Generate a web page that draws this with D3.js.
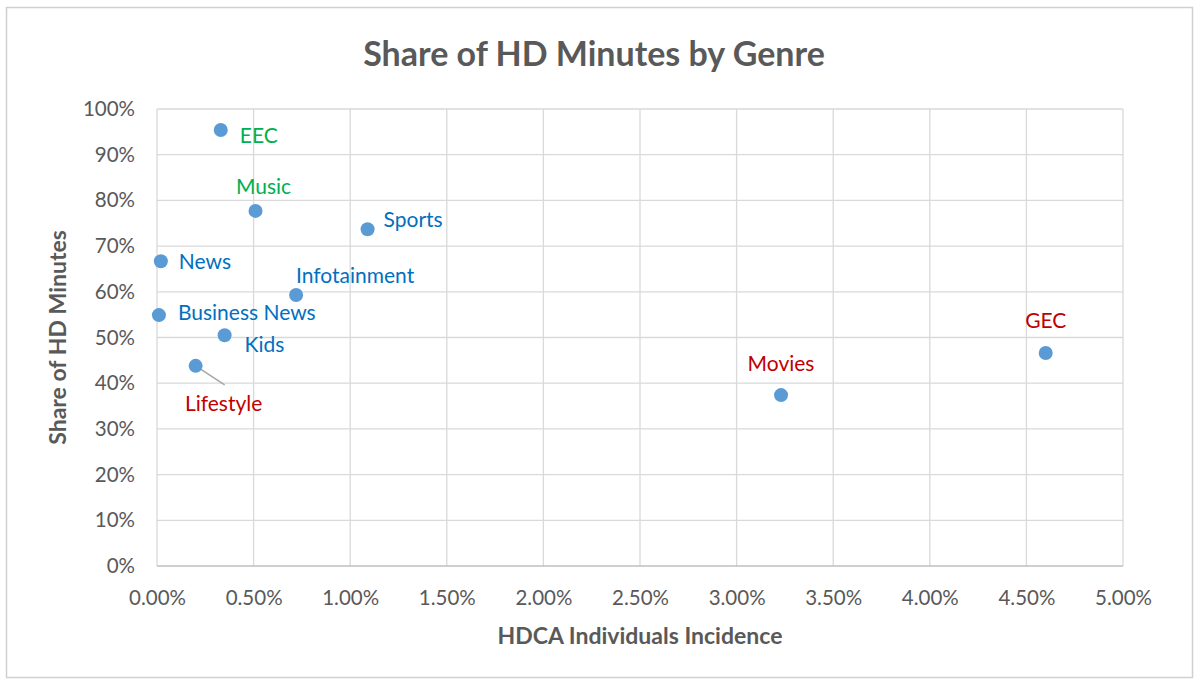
<!DOCTYPE html>
<html>
<head>
<meta charset="utf-8">
<script src="https://cdn.jsdelivr.net/npm/d3@7"></script>
<style>
  body { margin: 0; background: #fff; }
  text { font-family: Lato, "Open Sans", sans-serif; }
</style>
</head>
<body>
<div id="chart"></div>
<script>
// genre points, x = HDCA individuals incidence (%), y = share of HD minutes (%)
var genres = ["EEC", "Music", "Sports", "News", "Infotainment", "Business News", "Kids", "Lifestyle", "Movies", "GEC"];
var incidence = [0.33, 0.51, 1.09, 0.02, 0.72, 0.01, 0.35, 0.20, 3.23, 4.60];
var hdShare = [95.4, 77.7, 73.7, 66.7, 59.3, 54.9, 50.5, 43.8, 37.4, 46.6];
var labelGroup = ["green", "green", "blue", "blue", "blue", "blue", "blue", "red", "red", "red"];
var xTicks = [0, 0.5, 1, 1.5, 2, 2.5, 3, 3.5, 4, 4.5, 5];
var yTicks = [0, 10, 20, 30, 40, 50, 60, 70, 80, 90, 100];

var W = 1198, H = 679;
var margin = {top: 109, right: 75, bottom: 113, left: 157};
var colors = {green: "#00b050", blue: "#0070c0", red: "#c00000"};
// label offsets relative to the point (dx, dy, anchor)
var labelPos = [
  [19, 6, "start"], [8, -24, "middle"], [16, -10, "start"], [18, 0, "start"],
  [59, -19, "middle"], [19, -2, "start"], [20, 9, "start"], [28, 38, "middle"],
  [0, -31, "middle"], [0, -32, "middle"]
];

var svg = d3.select("#chart").append("svg").attr("width", W).attr("height", H);

svg.append("rect").attr("x", 6.5).attr("y", 7.5).attr("width", 1186).attr("height", 670)
  .attr("fill", "#fff").attr("stroke", "#d0d0d0").attr("stroke-width", 1.5);

var x = d3.scaleLinear().domain([0, 5]).range([margin.left, W - margin.right]);
var y = d3.scaleLinear().domain([0, 100]).range([H - margin.bottom, margin.top]);

// grid
svg.append("g").selectAll("line").data(xTicks).join("line")
  .attr("x1", d => x(d)).attr("x2", d => x(d))
  .attr("y1", y(0)).attr("y2", y(100))
  .attr("stroke", "#d9d9d9").attr("stroke-width", 1.3);
svg.append("g").selectAll("line").data(yTicks).join("line")
  .attr("x1", x(0)).attr("x2", x(5))
  .attr("y1", d => y(d)).attr("y2", d => y(d))
  .attr("stroke", d => d === 0 ? "#bfbfbf" : "#d9d9d9").attr("stroke-width", 1.3);

// axes (labels only)
var xAxis = svg.append("g").attr("transform", "translate(0," + y(0) + ")")
  .call(d3.axisBottom(x).tickValues(xTicks).tickSize(0).tickPadding(24)
    .tickFormat(d => d.toFixed(2) + "%"));
var yAxis = svg.append("g").attr("transform", "translate(" + x(0) + ",0)")
  .call(d3.axisLeft(y).tickValues(yTicks).tickSize(0).tickPadding(22)
    .tickFormat(d => d + "%"));
[xAxis, yAxis].forEach(function(a) {
  a.select(".domain").remove();
  a.selectAll("text").attr("fill", "#595959").style("font-size", "20.5px")
    .style("font-family", "Lato, sans-serif");
});

// title + axis titles
svg.append("text").attr("x", 594).attr("y", 66).attr("text-anchor", "middle")
  .attr("fill", "#595959").style("font-size", "34px").style("font-weight", "bold")
  .text("Share of HD Minutes by Genre");
svg.append("text").attr("x", (x(0) + x(5)) / 2).attr("y", 644).attr("text-anchor", "middle")
  .attr("fill", "#595959").style("font-size", "23px").style("font-weight", "bold")
  .text("HDCA Individuals Incidence");
svg.append("text").attr("transform", "translate(66," + (y(0) + y(100)) / 2 + ") rotate(-90)")
  .attr("text-anchor", "middle")
  .attr("fill", "#595959").style("font-size", "23px").style("font-weight", "bold")
  .text("Share of HD Minutes");

// leader line for Lifestyle
var li = genres.indexOf("Lifestyle");
svg.append("line")
  .attr("x1", x(incidence[li])).attr("y1", y(hdShare[li]))
  .attr("x2", x(incidence[li]) + 29).attr("y2", y(hdShare[li]) + 19)
  .attr("stroke", "#a6a6a6").attr("stroke-width", 1.5);

// points
svg.append("g").selectAll("circle").data(genres).join("circle")
  .attr("cx", (d, i) => x(incidence[i])).attr("cy", (d, i) => y(hdShare[i]))
  .attr("r", 7).attr("fill", "#5b9bd5");

// data labels
svg.append("g").selectAll("text").data(genres).join("text")
  .attr("x", (d, i) => x(incidence[i]) + labelPos[i][0])
  .attr("y", (d, i) => y(hdShare[i]) + labelPos[i][1])
  .attr("dy", "0.35em")
  .attr("text-anchor", (d, i) => labelPos[i][2])
  .attr("fill", (d, i) => colors[labelGroup[i]])
  .style("font-size", "21px")
  .text(d => d);
</script>
</body>
</html>
